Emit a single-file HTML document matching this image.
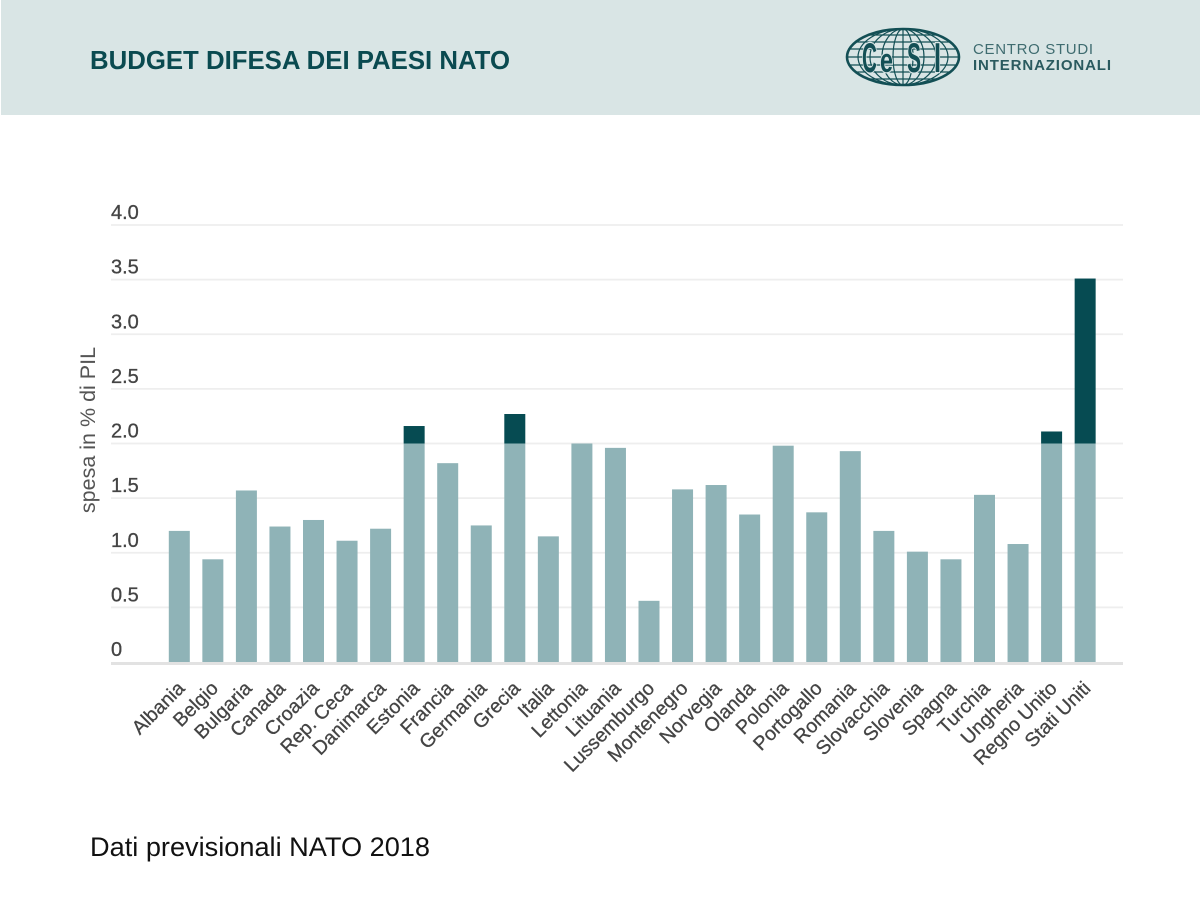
<!DOCTYPE html>
<html lang="it">
<head>
<meta charset="utf-8">
<title>Budget difesa dei paesi NATO</title>
<style>
html,body{margin:0;padding:0;background:#fff;width:1200px;height:917px;overflow:hidden}
svg{display:block}
text{font-family:"Liberation Sans",sans-serif}
</style>
</head>
<body>
<svg id="chart" xmlns="http://www.w3.org/2000/svg" width="1200" height="917" viewBox="0 0 1200 917">
  <rect x="1" y="0" width="1199" height="115" fill="#d9e5e5"/>
  <text x="90" y="69" font-size="25.5" font-weight="700" fill="#0a4a50" textLength="420" lengthAdjust="spacingAndGlyphs">BUDGET DIFESA DEI PAESI NATO</text>

  <g fill="none" stroke="#134f55">
    <ellipse cx="903" cy="57" rx="56" ry="28" fill="#d9e5e5" stroke-width="2.6"/>
    <ellipse cx="903" cy="57" rx="45" ry="28" stroke-width="1.2"/>
    <ellipse cx="903" cy="57" rx="33" ry="28" stroke-width="1.2"/>
    <ellipse cx="903" cy="57" rx="21" ry="28" stroke-width="1.2"/>
    <ellipse cx="903" cy="57" rx="10" ry="28" stroke-width="1.2"/>
    <line x1="903" y1="29" x2="903" y2="85" stroke-width="1.2"/>
    <line x1="868" y1="35" x2="938" y2="35" stroke-width="1.2"/>
    <line x1="856" y1="42" x2="950" y2="42" stroke-width="1.2"/>
    <line x1="849" y1="49" x2="957" y2="49" stroke-width="1.2"/>
    <line x1="847" y1="57" x2="959" y2="57" stroke-width="1.2"/>
    <line x1="849" y1="65" x2="957" y2="65" stroke-width="1.2"/>
    <line x1="856" y1="72" x2="950" y2="72" stroke-width="1.2"/>
    <line x1="868" y1="79" x2="938" y2="79" stroke-width="1.2"/>
    <g fill="#134f55" stroke="#d9e5e5" stroke-width="2.4" paint-order="stroke" font-weight="700" font-size="42">
      <text x="862" y="72" textLength="15" lengthAdjust="spacingAndGlyphs">C</text>
      <text x="880" y="72" font-size="34" textLength="13" lengthAdjust="spacingAndGlyphs">e</text>
      <text x="907" y="72" textLength="14" lengthAdjust="spacingAndGlyphs">S</text>
      <text x="934" y="72" textLength="7" lengthAdjust="spacingAndGlyphs">I</text>
    </g>
  </g>
  <text x="973" y="54" font-size="15" fill="#3f6c70" textLength="120" lengthAdjust="spacing">CENTRO STUDI</text>
  <text x="973" y="70" font-size="15" font-weight="700" fill="#2a5a5f" textLength="138" lengthAdjust="spacing">INTERNAZIONALI</text>

  <g id="grid"></g>
  <g id="yticks"></g>
  <g id="bars"></g>
  <rect x="111" y="662" width="1012" height="3" fill="#e2e2e2"/>
  <g id="xticks"></g>

  <text transform="translate(95,430) rotate(-90)" font-size="21.5" fill="#555" text-anchor="middle">spesa in % di PIL</text>
  <text x="90" y="856" font-size="26.5" fill="#111" textLength="340" lengthAdjust="spacingAndGlyphs">Dati previsionali NATO 2018</text>
</svg>
<script>
const countries = ["Albania","Belgio","Bulgaria","Canada","Croazia","Rep. Ceca","Danimarca","Estonia","Francia","Germania","Grecia","Italia","Lettonia","Lituania","Lussemburgo","Montenegro","Norvegia","Olanda","Polonia","Portogallo","Romania","Slovacchia","Slovenia","Spagna","Turchia","Ungheria","Regno Unito","Stati Uniti"];
const spending = [1.20,0.94,1.57,1.24,1.30,1.11,1.22,2.16,1.82,1.25,2.27,1.15,2.00,1.96,0.56,1.58,1.62,1.35,1.98,1.37,1.93,1.20,1.01,0.94,1.53,1.08,2.11,3.51];
const yTicks = [0,0.5,1,1.5,2,2.5,3,3.5,4];
const yTickLabels = ["0","0.5","1.0","1.5","2.0","2.5","3.0","3.5","4.0"];
const natoTarget = 2;

const NS = "http://www.w3.org/2000/svg";
const yScale = v => 662 - v * 109.25;
const xScale = i => 179.3 + i * 33.55;
const BAR_W = 21;

function make(tag, attrs, parent, text) {
  const el = document.createElementNS(NS, tag);
  for (const k in attrs) el.setAttribute(k, attrs[k]);
  if (text !== undefined) el.textContent = text;
  parent.appendChild(el);
  return el;
}

const gridG = document.getElementById("grid");
const yG = document.getElementById("yticks");
const barsG = document.getElementById("bars");
const xG = document.getElementById("xticks");

yTicks.forEach((t, i) => {
  if (t > 0) {
    const ln = make("line", {x1:111, x2:1123, y1:yScale(t), y2:yScale(t), stroke:"#eeeeee", "stroke-width":1.8}, gridG);
    
    
  }
  const lab = make("text", {x:111, y:yScale(t) - 6, "font-size":20, fill:"#444", stroke:"#444", "stroke-width":0.3}, yG, yTickLabels[i]);
  
  
});

spending.forEach((v, i) => {
  const cx = xScale(i);
  const base = Math.min(v, natoTarget);
  const r = make("rect", {x:cx - BAR_W / 2, y:yScale(base), width:BAR_W, height:yScale(0) - yScale(base), fill:"#8fb3b7"}, barsG);
  
  
  if (v > natoTarget) {
    const e = make("rect", {x:cx - BAR_W / 2, y:yScale(v), width:BAR_W, height:yScale(natoTarget) - yScale(v), fill:"#064b52"}, barsG);
    
    
  }
  const px = cx + 6.5, py = 689.5;
  const lab = make("text", {x:px, y:py, "font-size":19.5, fill:"#444", stroke:"#444", "stroke-width":0.3, "text-anchor":"end", transform:"rotate(-45 " + px + " " + py + ")"}, xG, countries[i]);
  
  
});
</script>
</body>
</html>
